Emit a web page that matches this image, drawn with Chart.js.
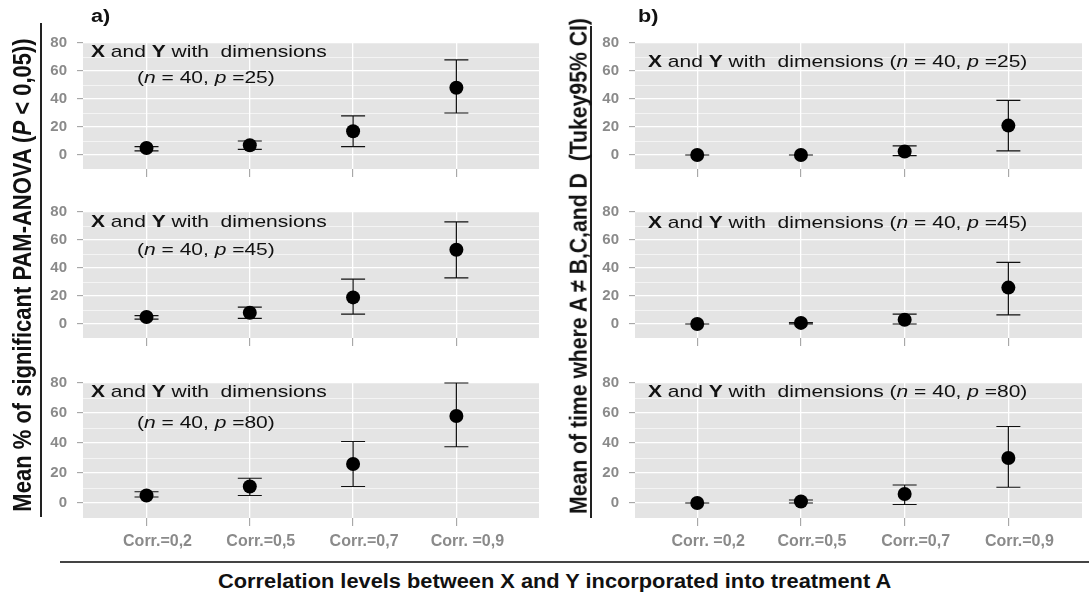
<!DOCTYPE html>
<html>
<head>
<meta charset="utf-8">
<script src="https://cdn.jsdelivr.net/npm/chart.js@4.4.1/dist/chart.umd.min.js"></script>
<style>
  html, body { margin: 0; padding: 0; background: #fff; }
  #wrap { position: relative; width: 1089px; height: 596px; overflow: hidden;
          font-family: "Liberation Sans", Arial, sans-serif; color: #111; }
  .pane { position: absolute; }
  .txt { position: absolute; white-space: nowrap; line-height: 1; transform-origin: left top; }
  .ann { font-size: 17px; transform: scaleX(1.235); }
  .tag { font-size: 18px; font-weight: bold; transform: scaleX(1.2); }
  .ytitle { position: absolute; white-space: nowrap; line-height: 1; font-weight: bold;
            transform: translate(-50%, -50%) rotate(-90deg) scaleY(1.15); }
  .rule { position: absolute; background: #222; }
</style>
</head>
<body>
<div id="wrap">
  <div class="rule" style="left:40px;top:23px;width:1.5px;height:494px"></div>
  <div class="rule" style="left:590px;top:26px;width:1.5px;height:492px"></div>
  <div class="rule" style="left:60px;top:561px;width:1029px;height:1.5px;background:#444"></div>

  <div class="txt tag" style="left:91px;top:7px">a)</div>
  <div class="txt tag" style="left:638px;top:7px">b)</div>

  <div class="ytitle" style="left:23px;top:275px;font-size:22px">Mean % of significant PAM-ANOVA (<i>P</i> &lt; 0,05))</div>
  <div class="ytitle" style="left:578px;top:266px;font-size:21.2px">Mean of time where A ≠ B,C,and D&nbsp; (Tukey95% CI)</div>

  <div class="txt ann" style="left:91px;top:43px"><b>X</b> and <b>Y</b> with&nbsp; dimensions</div>
  <div class="txt ann" style="left:137px;top:69px">(<i>n</i> = 40, <i>p</i> =25)</div>
  <div class="txt ann" style="left:91px;top:213px"><b>X</b> and <b>Y</b> with&nbsp; dimensions</div>
  <div class="txt ann" style="left:137px;top:241px">(<i>n</i> = 40, <i>p</i> =45)</div>
  <div class="txt ann" style="left:91px;top:383px"><b>X</b> and <b>Y</b> with&nbsp; dimensions</div>
  <div class="txt ann" style="left:137px;top:414px">(<i>n</i> = 40, <i>p</i> =80)</div>

  <div class="txt ann" style="left:648px;top:53px"><b>X</b> and <b>Y</b> with&nbsp; dimensions (<i>n</i> = 40, <i>p</i> =25)</div>
  <div class="txt ann" style="left:648px;top:214px"><b>X</b> and <b>Y</b> with&nbsp; dimensions (<i>n</i> = 40, <i>p</i> =45)</div>
  <div class="txt ann" style="left:648px;top:383px"><b>X</b> and <b>Y</b> with&nbsp; dimensions (<i>n</i> = 40, <i>p</i> =80)</div>

  <div class="txt" style="left:218px;top:571px;font-size:20px;font-weight:bold;transform:scaleX(1.09)">Correlation levels between X and Y incorporated into treatment A</div>
</div>
<script>
// categories (x tick labels differ slightly between the two columns)
const catsA = ['Corr.=0,2', 'Corr.=0,5', 'Corr.=0,7', 'Corr. =0,9'];
const catsB = ['Corr. =0,2', 'Corr.=0,5', 'Corr.=0,7', 'Corr.=0,9'];
const yTicks = [0, 20, 40, 60, 80];
const yMinor = [10, 30, 50, 70];

// a) mean % of significant PAM-ANOVA, error bar low / high
const a25Mean = [5, 7, 17, 48];
const a25Lo = [3, 4, 6, 30];
const a25Hi = [6, 10, 28, 68];
const a45Mean = [5, 8, 19, 53];
const a45Lo = [3.5, 4, 7, 33];
const a45Hi = [6, 12, 32, 73];
const a80Mean = [5, 11, 26, 58];
const a80Lo = [4, 5, 11, 37.5];
const a80Hi = [7.5, 16.5, 41, 80];

// b) mean of time where A != B,C and D (Tukey 95% CI)
const b25Mean = [0, 0, 2.5, 21];
const b25Lo = [0, 0, -0.5, 3];
const b25Hi = [0, 0, 6.5, 39];
const b45Mean = [0, 0.8, 3, 26];
const b45Lo = [0, 0, 0, 6.5];
const b45Hi = [0, 1, 7, 44];
const b80Mean = [0, 1, 6, 30];
const b80Lo = [0, 0, -1, 10.5];
const b80Hi = [0, 2, 12, 51];

Chart.defaults.font.family = '"Liberation Sans", Arial, sans-serif';
Chart.defaults.animation = false;

const cols = [
  { left: 40, width: 506, xMin: 0.385, xMax: 4.8, cats: catsA },
  { left: 592, width: 497, xMin: 0.4, xMax: 4.71, cats: catsB }
];
const rowTops = [36, 205, 376];
const PANEL_H = 142, PAD_TOP = 12;

const panels = [
  { col: 0, row: 0, mean: a25Mean, lo: a25Lo, hi: a25Hi },
  { col: 0, row: 1, mean: a45Mean, lo: a45Lo, hi: a45Hi },
  { col: 0, row: 2, mean: a80Mean, lo: a80Lo, hi: a80Hi },
  { col: 1, row: 0, mean: b25Mean, lo: b25Lo, hi: b25Hi },
  { col: 1, row: 1, mean: b45Mean, lo: b45Lo, hi: b45Hi },
  { col: 1, row: 2, mean: b80Mean, lo: b80Lo, hi: b80Hi }
];

// grey ggplot-like panel behind the grid
const panelBg = {
  id: 'panelBg',
  beforeDraw(chart) {
    const { ctx, chartArea: a } = chart;
    ctx.save();
    ctx.fillStyle = '#e4e4e4';
    ctx.fillRect(a.left, a.top, a.right - a.left, a.bottom - a.top);
    ctx.restore();
  }
};

// error bars with caps, read from the dataset's lo / hi arrays
const errorBars = {
  id: 'errorBars',
  beforeDatasetsDraw(chart) {
    const { ctx, scales: { x, y } } = chart;
    const ds = chart.data.datasets[0];
    ctx.save();
    ctx.strokeStyle = '#111';
    ctx.lineWidth = 1.2;
    ds.errLo.forEach((lo, i) => {
      const px = x.getPixelForValue(i + 1);
      const y1 = y.getPixelForValue(lo), y2 = y.getPixelForValue(ds.errHi[i]);
      ctx.beginPath();
      ctx.moveTo(px, y1); ctx.lineTo(px, y2);
      ctx.moveTo(px - 12, y1); ctx.lineTo(px + 12, y1);
      ctx.moveTo(px - 12, y2); ctx.lineTo(px + 12, y2);
      ctx.stroke();
    });
    ctx.restore();
  }
};

const wrap = document.getElementById('wrap');
const tickFont = { family: '"Liberation Sans", Arial, sans-serif', weight: 'bold' };

panels.forEach(p => {
  const c = cols[p.col];
  const last = p.row === 2;
  const axisH = last ? 38 : 10;
  const box = document.createElement('div');
  box.className = 'pane';
  box.style.cssText = `left:${c.left}px;top:${rowTops[p.row] - PAD_TOP}px;width:${c.width}px;height:${PAD_TOP + PANEL_H + axisH}px`;
  const cv = document.createElement('canvas');
  box.appendChild(cv);
  wrap.insertBefore(box, wrap.firstChild);

  const xPos = c.cats.map((_, i) => i + 1);
  new Chart(cv, {
    type: 'scatter',
    data: {
      datasets: [{
        data: p.mean.map((v, i) => ({ x: i + 1, y: v })),
        errLo: p.lo, errHi: p.hi,
        backgroundColor: '#000', borderWidth: 0,
        pointRadius: 7, pointHoverRadius: 7
      }]
    },
    options: {
      responsive: true, maintainAspectRatio: false,
      layout: { padding: { top: PAD_TOP, right: 0, bottom: 0, left: 0 } },
      plugins: { legend: { display: false }, tooltip: { enabled: false } },
      scales: {
        x: {
          type: 'linear', min: c.xMin, max: c.xMax,
          afterBuildTicks: s => { s.ticks = xPos.map(v => ({ value: v })); },
          afterFit: s => { s.height = axisH; },
          border: { display: false },
          grid: { color: '#fff', lineWidth: 1.3, tickColor: '#9a9a9a', tickWidth: 1, tickLength: 8 },
          ticks: {
            display: last, color: '#8a8a8a', font: { ...tickFont, size: 16 },
            padding: 6, labelOffset: 11, maxRotation: 0, autoSkip: false,
            callback: v => c.cats[v - 1]
          }
        },
        y: {
          min: -10, max: 80,
          afterBuildTicks: s => { s.ticks = [...yMinor, ...yTicks].sort((a, b) => a - b).map(v => ({ value: v })); },
          afterFit: s => { s.width = 43; },
          border: { display: false },
          grid: {
            color: '#fff',
            lineWidth: ctx => yTicks.includes(ctx.tick.value) ? 1.3 : 0.6,
            tickColor: ctx => yTicks.includes(ctx.tick.value) ? '#9a9a9a' : 'rgba(0,0,0,0)',
            tickWidth: 1, tickLength: 6
          },
          ticks: {
            color: '#8a8a8a', font: { ...tickFont, size: 15 }, padding: 10, autoSkip: false,
            callback: v => yTicks.includes(v) ? String(v) : ''
          }
        }
      }
    },
    plugins: [panelBg, errorBars]
  });
});
</script>
</body>
</html>
